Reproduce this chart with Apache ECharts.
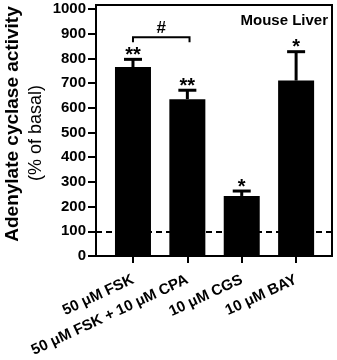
<!DOCTYPE html>
<html>
<head>
<meta charset="utf-8">
<script src="https://cdn.jsdelivr.net/npm/echarts@6/dist/echarts.min.js"></script>
<style>
  html, body { margin: 0; padding: 0; background: #fff; }
  #main { width: 337px; height: 360px; }
</style>
</head>
<body>
<div id="main"></div>
<script>
var categories = ['50 \u03bcM FSK', '50 \u03bcM FSK + 10 \u03bcM CPA', '10 \u03bcM CGS', '10 \u03bcM BAY'];
var means = [765, 635, 243, 710];
var errors = [31, 36, 20, 117];
var stars = ['**', '**', '*', '*'];
var yTicks = [0, 100, 200, 300, 400, 500, 600, 700, 800, 900, 1000];
var xTicks = [0, 1, 2, 3];
var basal = 100;
// comparison bracket between FSK and FSK + CPA
var bracketFrom = 0, bracketTo = 1.04, bracketLevel = 885, bracketDrop = 865;

var font = 'Arial, "Liberation Sans", sans-serif';

var barData = [];
var errData = [];
for (var i = 0; i < means.length; i++) {
    barData.push([i, means[i]]);
    errData.push([i, means[i], means[i] + errors[i]]);
}

var chart = echarts.init(document.getElementById('main'));

var option = {
    animation: false,
    backgroundColor: '#fff',
    grid: {
        left: 96, right: 5, top: 5, bottom: 104,
        outerBoundsMode: 'none',
        show: true, borderColor: '#000', borderWidth: 2, backgroundColor: 'transparent'
    },
    xAxis: {
        type: 'value',
        min: -0.68,
        max: 3.66,
        splitLine: { show: false },
        axisLine: { show: true, onZero: false, lineStyle: { color: '#000', width: 2 } },
        axisTick: { show: true, customValues: xTicks, length: 7, lineStyle: { color: '#000', width: 2 } },
        axisLabel: {
            customValues: xTicks,
            rotate: 25,
            margin: 23,
            color: '#000',
            fontFamily: font,
            fontWeight: 'bold',
            fontSize: 15,
            formatter: function (v) { return categories[Math.round(v)]; }
        }
    },
    yAxis: {
        type: 'value',
        min: 0,
        max: 1016,
        splitLine: { show: false },
        axisLine: { show: true, onZero: false, lineStyle: { color: '#000', width: 2 } },
        axisTick: { show: true, customValues: yTicks, length: 8, lineStyle: { color: '#000', width: 2 } },
        axisLabel: {
            customValues: yTicks,
            margin: 10,
            color: '#000',
            fontFamily: font,
            fontWeight: 'bold',
            fontSize: 15,
            formatter: function (v) { return String(v); }
        }
    },
    graphic: [
        {
            type: 'text', x: 13, y: 124, rotation: Math.PI / 2,
            style: {
                text: 'Adenylate cyclase activity', fill: '#000',
                font: 'bold 19px ' + font, textAlign: 'center', textVerticalAlign: 'middle'
            }
        },
        {
            type: 'text', x: 36, y: 133, rotation: Math.PI / 2,
            style: {
                text: '(% of basal)', fill: '#000',
                font: '18px ' + font, textAlign: 'center', textVerticalAlign: 'middle'
            }
        },
        {
            type: 'text', right: 9, top: 13,
            style: {
                text: 'Mouse Liver', fill: '#000',
                font: 'bold 15px ' + font
            }
        }
    ],
    series: [
        {
            type: 'bar',
            data: barData,
            barWidth: 36,
            itemStyle: { color: '#000' },
            markLine: {
                silent: true,
                symbol: 'none',
                label: { show: false },
                lineStyle: { color: '#000', width: 2, type: [6, 4] },
                data: [{ yAxis: basal }]
            }
        },
        {
            type: 'custom',
            data: errData,
            z: 3,
            renderItem: function (params, api) {
                var x = api.value(0);
                var top = api.coord([x, api.value(2)]);
                var base = api.coord([x, api.value(1)]);
                var cap = 9;
                return {
                    type: 'group',
                    children: [
                        {
                            type: 'line',
                            shape: { x1: top[0], y1: base[1], x2: top[0], y2: top[1] },
                            style: { stroke: '#000', lineWidth: 3 }
                        },
                        {
                            type: 'line',
                            shape: { x1: top[0] - cap, y1: top[1], x2: top[0] + cap, y2: top[1] },
                            style: { stroke: '#000', lineWidth: 3 }
                        },
                        {
                            type: 'text',
                            x: top[0], y: top[1] - 4,
                            style: {
                                text: stars[params.dataIndex], fill: '#000',
                                font: 'bold 20px ' + font,
                                textAlign: 'center', textVerticalAlign: 'middle'
                            }
                        }
                    ]
                };
            }
        },
        {
            type: 'custom',
            data: [[bracketFrom, bracketLevel]],
            z: 3,
            renderItem: function (params, api) {
                var a = api.coord([bracketFrom, bracketLevel]);
                var b = api.coord([bracketTo, bracketLevel]);
                var d = api.coord([bracketFrom, bracketDrop]);
                return {
                    type: 'group',
                    children: [
                        {
                            type: 'polyline',
                            shape: { points: [[a[0], d[1]], a, b, [b[0], d[1]]] },
                            style: { stroke: '#000', lineWidth: 2, fill: null }
                        },
                        {
                            type: 'text',
                            x: (a[0] + b[0]) / 2, y: a[1] - 9,
                            style: {
                                text: '#', fill: '#000',
                                font: 'bold 17px ' + font,
                                textAlign: 'center', textVerticalAlign: 'middle'
                            }
                        }
                    ]
                };
            }
        }
    ]
};

chart.setOption(option);
</script>
</body>
</html>
